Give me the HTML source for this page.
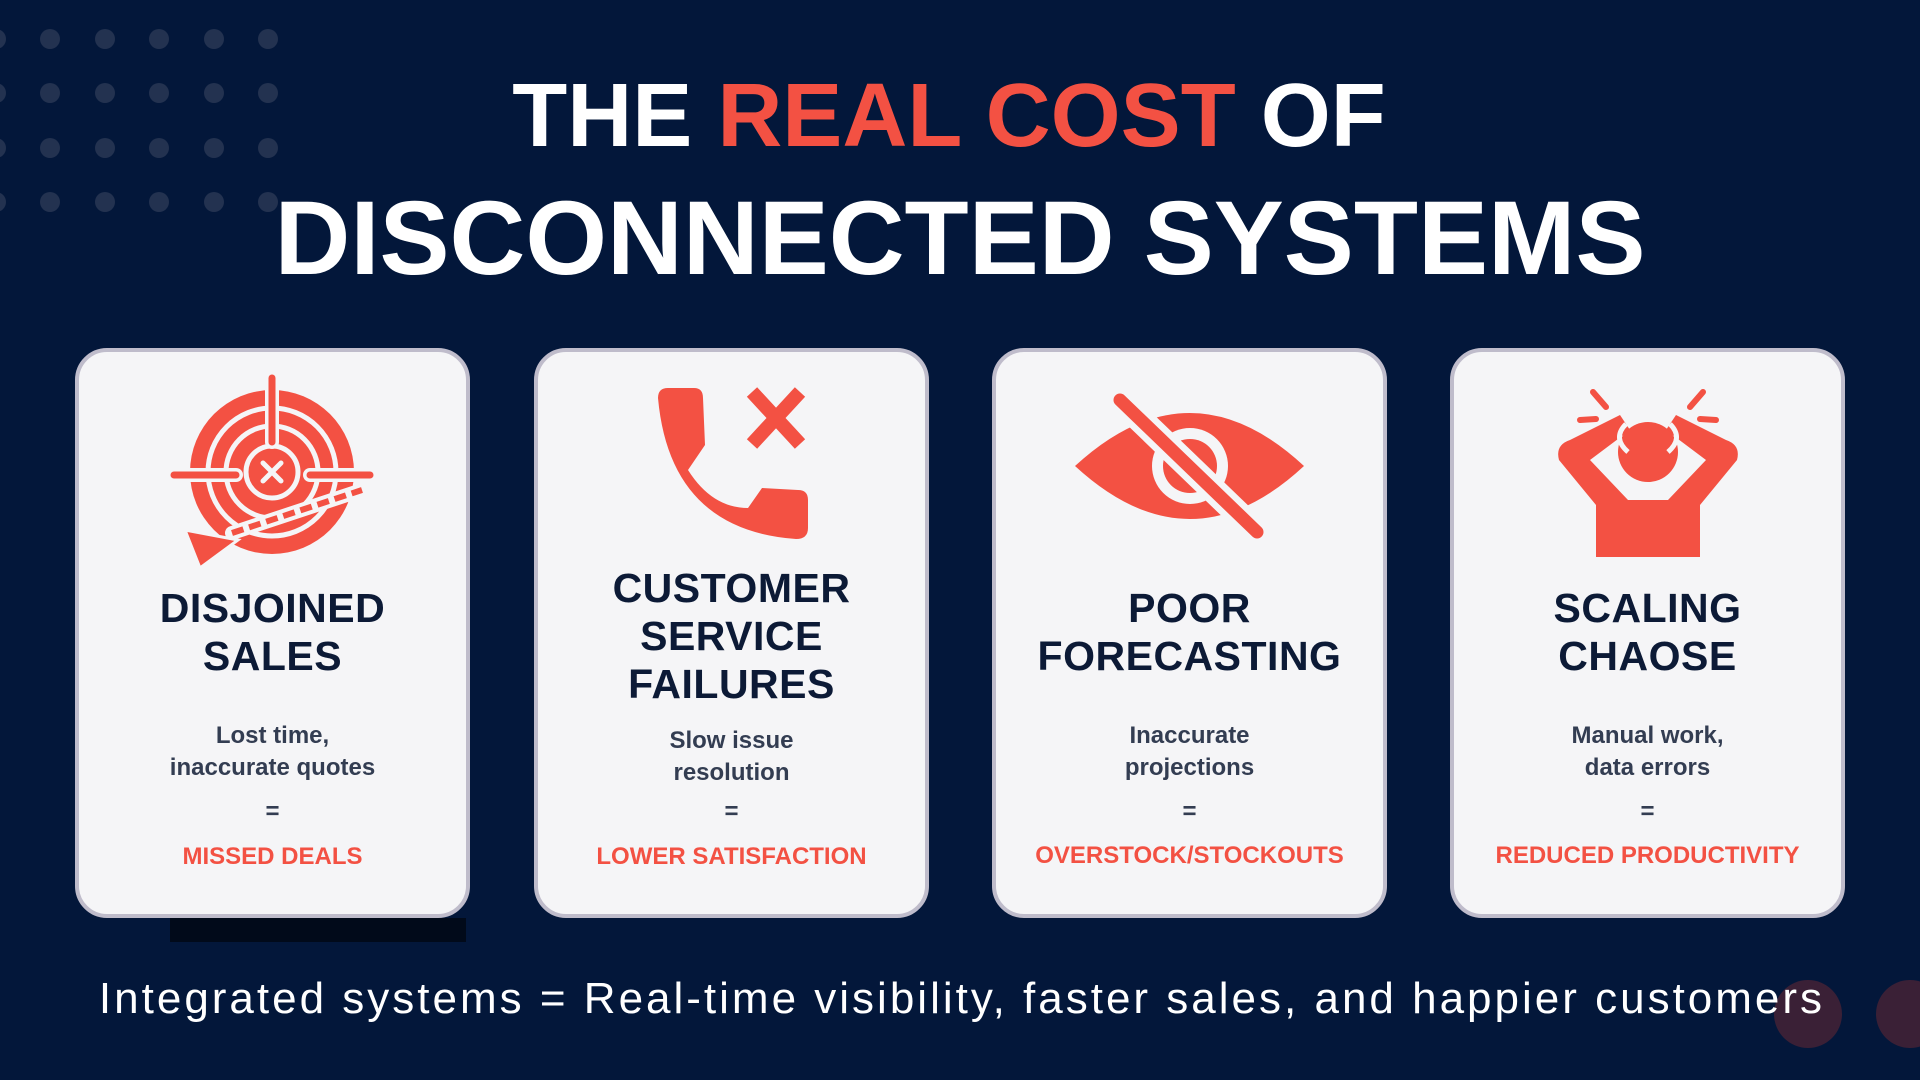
<!DOCTYPE html>
<html><head><meta charset="utf-8"><style>
*{margin:0;padding:0;box-sizing:border-box}
body{width:1920px;height:1080px;background:#03173a;position:relative;overflow:hidden;font-family:"Liberation Sans",sans-serif}
.t{position:absolute;left:0;width:1920px;text-align:center;color:#fff;font-weight:bold;white-space:nowrap}
.card{position:absolute;top:348px;width:395px;height:570px;background:#f5f5f7;border:4px solid #bfbccb;border-radius:32px}
.h{position:absolute;left:0;width:100%;text-align:center;color:#0c1a36;font-weight:bold;font-size:41px;line-height:48px;letter-spacing:0.5px}
.d{position:absolute;left:0;width:100%;text-align:center;color:#333d52;font-size:24px;font-weight:bold;line-height:32px}
.r{position:absolute;left:0;width:100%;text-align:center;color:#f35143;font-weight:bold;font-size:24px;line-height:30px}
</style></head><body>
<svg width="1920" height="1080" style="position:absolute;left:0;top:0">
<g fill="#233250">
<circle cx="-4" cy="39" r="10"/><circle cx="50" cy="39" r="10"/><circle cx="105" cy="39" r="10"/><circle cx="159" cy="39" r="10"/><circle cx="214" cy="39" r="10"/><circle cx="268" cy="39" r="10"/>
<circle cx="-4" cy="93" r="10"/><circle cx="50" cy="93" r="10"/><circle cx="105" cy="93" r="10"/><circle cx="159" cy="93" r="10"/><circle cx="214" cy="93" r="10"/><circle cx="268" cy="93" r="10"/>
<circle cx="-4" cy="148" r="10"/><circle cx="50" cy="148" r="10"/><circle cx="105" cy="148" r="10"/><circle cx="159" cy="148" r="10"/><circle cx="214" cy="148" r="10"/><circle cx="268" cy="148" r="10"/>
<circle cx="-4" cy="202" r="10"/><circle cx="50" cy="202" r="10"/><circle cx="105" cy="202" r="10"/><circle cx="159" cy="202" r="10"/><circle cx="214" cy="202" r="10"/><circle cx="268" cy="202" r="10"/>
</g>
<rect x="170" y="918" width="296" height="24" fill="#010a1a"/>
<circle cx="1808" cy="1014" r="34" fill="#3a2036"/>
<circle cx="1910" cy="1014" r="34" fill="#3a2036"/>
</svg>
<div class="t" style="top:66px;font-size:90px;line-height:100px;left:-11px">THE <span style="color:#f35143">REAL COST</span> OF</div>
<div class="t" style="top:184px;font-size:105px;line-height:110px;left:0">DISCONNECTED SYSTEMS</div>

<div class="card" style="left:75px"></div>
<div class="card" style="left:534px"></div>
<div class="card" style="left:992px"></div>
<div class="card" style="left:1450px"></div>

<svg width="1920" height="1080" style="position:absolute;left:0;top:0">
<g>
<circle cx="272" cy="472" r="82" fill="#f35143"/>
<circle cx="272" cy="472" r="64" fill="none" stroke="#f5f5f7" stroke-width="5"/>
<circle cx="272" cy="472" r="46" fill="none" stroke="#f5f5f7" stroke-width="5"/>
<circle cx="272" cy="472" r="26" fill="#f35143" stroke="#f5f5f7" stroke-width="5"/>
<path d="M263,463 L281,481 M281,463 L263,481" stroke="#f5f5f7" stroke-width="5" stroke-linecap="round"/>
<line x1="272" y1="378" x2="272" y2="442" stroke="#f5f5f7" stroke-width="14" stroke-linecap="round"/>
<line x1="272" y1="378" x2="272" y2="442" stroke="#f35143" stroke-width="7" stroke-linecap="round"/>
<line x1="174" y1="475" x2="236" y2="475" stroke="#f5f5f7" stroke-width="14" stroke-linecap="round"/>
<line x1="174" y1="475" x2="236" y2="475" stroke="#f35143" stroke-width="7" stroke-linecap="round"/>
<line x1="310" y1="475" x2="370" y2="475" stroke="#f5f5f7" stroke-width="14" stroke-linecap="round"/>
<line x1="310" y1="475" x2="370" y2="475" stroke="#f35143" stroke-width="7" stroke-linecap="round"/>
<path d="M232,533 L362,490" stroke="#f5f5f7" stroke-width="14" stroke-linecap="round"/>
<path d="M232,533 L362,490" stroke="#f35143" stroke-width="6" stroke-dasharray="12 6"/>
<path d="M185,530 L238,540 L200,568 Z" fill="#f35143" stroke="#f5f5f7" stroke-width="3"/>
</g>
<path d="M658,398 Q658,388 668,388 L694,388 Q703,388 703,398 L705,445 L688,470 Q712,508 748,508 L762,488 L798,490 Q808,490 808,500 L808,528 Q808,539 796,539 Q670,530 658,398 Z" fill="#f35143"/>
<path d="M752,392 L800,444 M800,392 L752,444" stroke="#f35143" stroke-width="14"/>
<path d="M1075,466 Q1190,360 1304,466 Q1190,572 1075,466 Z" fill="#f35143"/>
<circle cx="1190" cy="466" r="38" fill="#f5f5f7"/>
<circle cx="1190" cy="466" r="27" fill="#f35143"/>
<line x1="1120" y1="400" x2="1257" y2="532" stroke="#f5f5f7" stroke-width="26" stroke-linecap="round"/>
<line x1="1120" y1="400" x2="1257" y2="532" stroke="#f35143" stroke-width="13" stroke-linecap="round"/>
<g>
<path d="M1559,460 Q1555,445 1570,440 L1620,415 L1630,430 L1590,460 L1628,500 L1668,500 L1706,460 L1666,430 L1676,415 L1726,440 Q1741,445 1737,460 L1700,505 L1700,557 L1596,557 L1596,505 Z" fill="#f35143"/>
<circle cx="1648" cy="452" r="30" fill="#f35143"/>
<path d="M1626,424 Q1612,438 1628,452" stroke="#f5f5f7" stroke-width="5" fill="none"/>
<path d="M1670,424 Q1684,438 1668,452" stroke="#f5f5f7" stroke-width="5" fill="none"/>
<path d="M1593,392 L1606,407 M1703,392 L1690,407 M1580,420 L1596,419 M1716,420 L1700,419" stroke="#f35143" stroke-width="6" stroke-linecap="round"/>
</g>
</svg>

<div style="position:absolute;left:75px;top:0;width:395px">
<div class="h" style="top:584px">DISJOINED<br>SALES</div>
<div class="d" style="top:720px">Lost time,<br>inaccurate quotes</div>
<div class="d" style="top:796px">=</div>
<div class="r" style="top:842px">MISSED DEALS</div>
</div>
<div style="position:absolute;left:534px;top:0;width:395px">
<div class="h" style="top:564px">CUSTOMER<br>SERVICE<br>FAILURES</div>
<div class="d" style="top:725px">Slow issue<br>resolution</div>
<div class="d" style="top:796px">=</div>
<div class="r" style="top:842px">LOWER SATISFACTION</div>
</div>
<div style="position:absolute;left:992px;top:0;width:395px">
<div class="h" style="top:584px">POOR<br>FORECASTING</div>
<div class="d" style="top:720px">Inaccurate<br>projections</div>
<div class="d" style="top:796px">=</div>
<div class="r" style="top:841px">OVERSTOCK/STOCKOUTS</div>
</div>
<div style="position:absolute;left:1450px;top:0;width:395px">
<div class="h" style="top:584px">SCALING<br>CHAOSE</div>
<div class="d" style="top:720px">Manual work,<br>data errors</div>
<div class="d" style="top:796px">=</div>
<div class="r" style="top:841px">REDUCED PRODUCTIVITY</div>
</div>

<div style="position:absolute;left:0;width:1920px;top:973px;text-align:center;color:#fff;font-size:44px;line-height:52px;letter-spacing:3px;white-space:nowrap;padding-left:4px">Integrated systems = Real-time visibility, faster sales, and happier customers</div>
</body></html>
